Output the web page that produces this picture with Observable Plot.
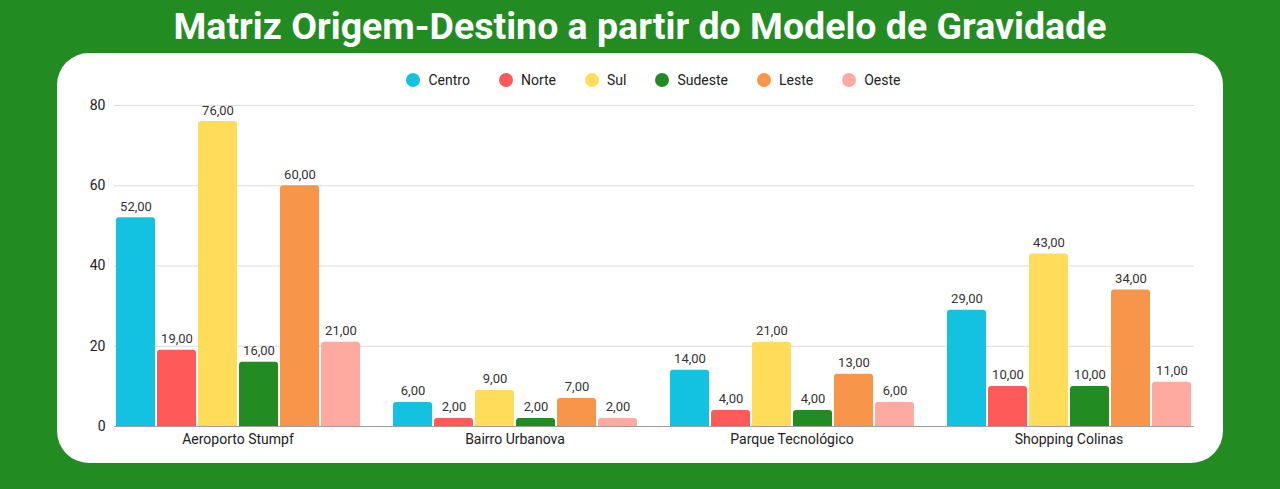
<!DOCTYPE html>
<html>
<head>
<meta charset="utf-8">
<script src="https://cdn.jsdelivr.net/npm/d3@7"></script>
<script src="https://cdn.jsdelivr.net/npm/@observablehq/plot@0.6"></script>
<style>
  html, body { margin: 0; padding: 0; }
  body { width: 1280px; height: 489px; background: #228B22; position: relative; overflow: hidden; font-family: Roboto, "Noto Sans", sans-serif; }
  #title { position: absolute; left: 0; top: 0; width: 1280px; height: 51px; display: flex; align-items: center; justify-content: center; color: #fff; font-weight: 700; font-size: 37.5px; white-space: nowrap; }
  #card { position: absolute; left: 57px; top: 53px; width: 1166px; height: 410px; background: #fff; border-radius: 32px; }
  #legend { position: absolute; left: 112px; width: 1083px; top: 70px; height: 20px; display: flex; justify-content: center; align-items: center; font-size: 14px; color: #222; }
  .item { display: flex; align-items: center; margin: 0 14.5px; }
  .dot { width: 14px; height: 14px; border-radius: 50%; margin-right: 8px; }
  #chart { position: absolute; left: 0; top: 0; }
</style>
</head>
<body>
<div id="title">Matriz Origem-Destino a partir do Modelo de Gravidade</div>
<div id="card"></div>
<div id="legend"></div>
<div id="chart"></div>
<script>
const groups = ["Aeroporto Stumpf", "Bairro Urbanova", "Parque Tecnológico", "Shopping Colinas"];
const series = ["Centro", "Norte", "Sul", "Sudeste", "Leste", "Oeste"];
const colors = ["#12C2E0", "#FF5A5A", "#FFDC5A", "#228B22", "#F7964A", "#FFAAA0"];
const centro  = [52, 6, 14, 29];
const norte   = [19, 2, 4, 10];
const sul     = [76, 9, 21, 43];
const sudeste = [16, 2, 4, 10];
const leste   = [60, 7, 13, 34];
const oeste   = [21, 2, 6, 11];
const yTicks = [0, 20, 40, 60, 80];

const valuesBySeries = [centro, norte, sul, sudeste, leste, oeste];
const data = [];
groups.forEach((g, gi) => {
  series.forEach((s, si) => {
    data.push({group: g, series: s, value: valuesBySeries[si][gi]});
  });
});

// legend
const legend = document.getElementById("legend");
series.forEach((s, i) => {
  const it = document.createElement("div");
  it.className = "item";
  const dot = document.createElement("span");
  dot.className = "dot";
  dot.style.background = colors[i];
  const lab = document.createElement("span");
  lab.textContent = s;
  it.appendChild(dot); it.appendChild(lab);
  legend.appendChild(it);
});

const gridFor = (gs) => yTicks.filter(t => t !== 0).flatMap(t => gs.map(g => ({y: t, group: g})));
const baseFor = (gs) => gs.map(g => ({y: 0, group: g}));
const first = [groups[0]], middle = groups.slice(1, -1), last = [groups[groups.length - 1]];

const fmt = v => v.toFixed(2).replace(".", ",");

const chart = Plot.plot({
  width: 1280,
  height: 489,
  marginTop: 105,
  marginBottom: 63,
  marginLeft: 112,
  marginRight: 87,
  style: {fontFamily: "Roboto, sans-serif", fontSize: "14px", color: "#222", background: "transparent", overflow: "visible"},
  fx: {domain: groups, paddingInner: 0.109, paddingOuter: 0, axis: "bottom", tickSize: 0, tickPadding: 8, label: null},
  x: {domain: series, paddingInner: 0.05, paddingOuter: 0, axis: null},
  y: {domain: [0, 80], ticks: yTicks, tickSize: 0, tickPadding: 9, label: null, tickFormat: d => String(d)},
  color: {domain: series, range: colors},
  marks: [
    Plot.ruleY(gridFor(first), {y: "y", fx: "group", stroke: "#dcdcdc", insetLeft: 0, insetRight: -15}),
    Plot.ruleY(gridFor(middle), {y: "y", fx: "group", stroke: "#dcdcdc", insetLeft: -15, insetRight: -15}),
    Plot.ruleY(gridFor(last), {y: "y", fx: "group", stroke: "#dcdcdc", insetLeft: -15, insetRight: -2}),
    Plot.barY(data, {fx: "group", x: "series", y: "value", fill: "series", rx: 3, insetBottom: -5, clip: true}),
    Plot.ruleY(baseFor(first), {y: "y", fx: "group", stroke: "#9e9e9e", insetLeft: 0, insetRight: -15}),
    Plot.ruleY(baseFor(middle), {y: "y", fx: "group", stroke: "#9e9e9e", insetLeft: -15, insetRight: -15}),
    Plot.ruleY(baseFor(last), {y: "y", fx: "group", stroke: "#9e9e9e", insetLeft: -15, insetRight: -2}),
    Plot.text(data, {fx: "group", x: "series", y: "value", text: d => fmt(d.value), lineAnchor: "bottom", dy: -7, fontSize: 13, fill: "#333"})
  ]
});
document.getElementById("chart").appendChild(chart);
</script>
</body>
</html>
